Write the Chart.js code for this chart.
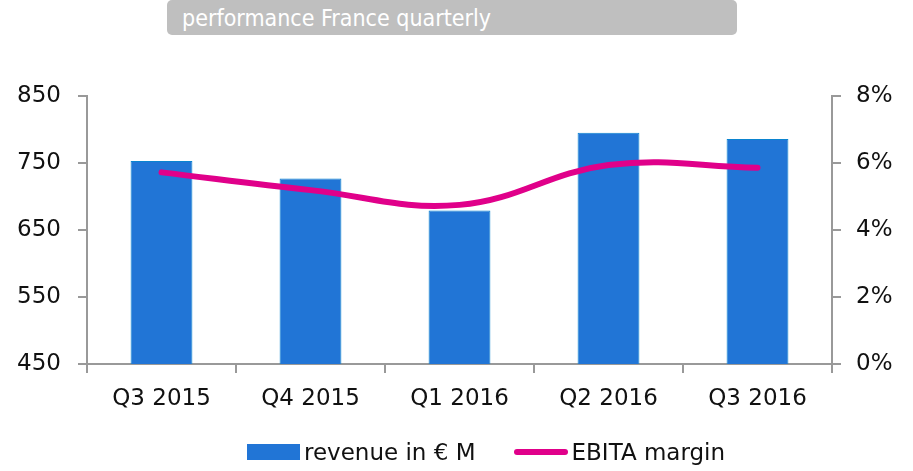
<!DOCTYPE html>
<html>
<head>
<meta charset="utf-8">
<script src="https://cdn.jsdelivr.net/npm/chart.js@4"></script>
<style>
  body { margin: 0; background: #fff; }
  #wrap { position: relative; width: 913px; height: 471px; font-family: 'DejaVu Sans', sans-serif; }
  #title {
    position: absolute; left: 167px; top: 0; width: 570px; height: 35px;
    background: #bfbfbf; border-radius: 5px; color: #fff;
    font-family: 'DejaVu Sans Condensed', 'DejaVu Sans', sans-serif; font-size: 23px;
    line-height: 37px; padding-left: 15px; box-sizing: border-box;
  }
  #legend { position: absolute; left: 247px; top: 439px; display: flex; align-items: center; font-size: 23px; color: #111; }
  .box { width: 53px; height: 16px; background: #2175d6; margin-right: 4px; }
  .ln { width: 54px; height: 6px; border-radius: 3px; background: #e0008a; margin-left: 38px; margin-right: 4px; }
</style>
</head>
<body>
<div id="wrap">
  <canvas id="chart" width="913" height="471"></canvas>
  <div id="title">performance France quarterly</div>
  <div id="legend">
    <div class="box"></div><span>revenue in € M</span>
    <div class="ln"></div><span>EBITA margin</span>
  </div>
</div>
<script>
const quarters = ['Q3 2015', 'Q4 2015', 'Q1 2016', 'Q2 2016', 'Q3 2016'];
const revenue = [753, 727, 679, 795, 786];
const ebitaMargin = [5.72, 5.19, 4.75, 5.94, 5.86];

const axisColor = '#999';
const tickFont = { family: 'DejaVu Sans', size: 23 };

new Chart(document.getElementById('chart'), {
  data: {
    labels: quarters,
    datasets: [
      {
        type: 'line',
        label: 'EBITA margin',
        data: ebitaMargin,
        yAxisID: 'y1',
        borderColor: '#e0008a',
        borderWidth: 6,
        borderCapStyle: 'round',
        tension: 0.4,
        pointRadius: 0,
        order: 0
      },
      {
        type: 'bar',
        label: 'revenue in € M',
        data: revenue,
        yAxisID: 'y',
        backgroundColor: '#2175d6',
        borderColor: '#0b84d0',
        borderWidth: 1,
        categoryPercentage: 1,
        barPercentage: 0.415,
        order: 1
      }
    ]
  },
  options: {
    responsive: false,
    animation: false,
    layout: { padding: { top: 96, bottom: 0, left: 0, right: 0 } },
    plugins: { legend: { display: false }, tooltip: { enabled: false } },
    scales: {
      x: {
        offset: true,
        grid: { display: true, drawOnChartArea: false, offset: true, tickLength: 9, color: axisColor, lineWidth: 2 },
        border: { display: true, color: axisColor, width: 2 },
        ticks: { font: tickFont, color: '#111', padding: 12, maxRotation: 0 },
        afterFit: s => { s.height = 107; }
      },
      y: {
        position: 'left',
        min: 450, max: 850,
        ticks: { stepSize: 100, font: tickFont, color: '#111', padding: 17 },
        grid: { display: true, drawOnChartArea: false, tickLength: 9, color: axisColor, lineWidth: 2 },
        border: { display: true, color: axisColor, width: 2 },
        afterFit: s => { s.width = 87; }
      },
      y1: {
        position: 'right',
        min: 0, max: 8,
        ticks: { stepSize: 2, font: tickFont, color: '#111', padding: 15, callback: v => v + '%' },
        grid: { display: true, drawOnChartArea: false, tickLength: 9, color: axisColor, lineWidth: 2 },
        border: { display: true, color: axisColor, width: 2 },
        afterFit: s => { s.width = 81; }
      }
    }
  }
});
</script>
</body>
</html>
